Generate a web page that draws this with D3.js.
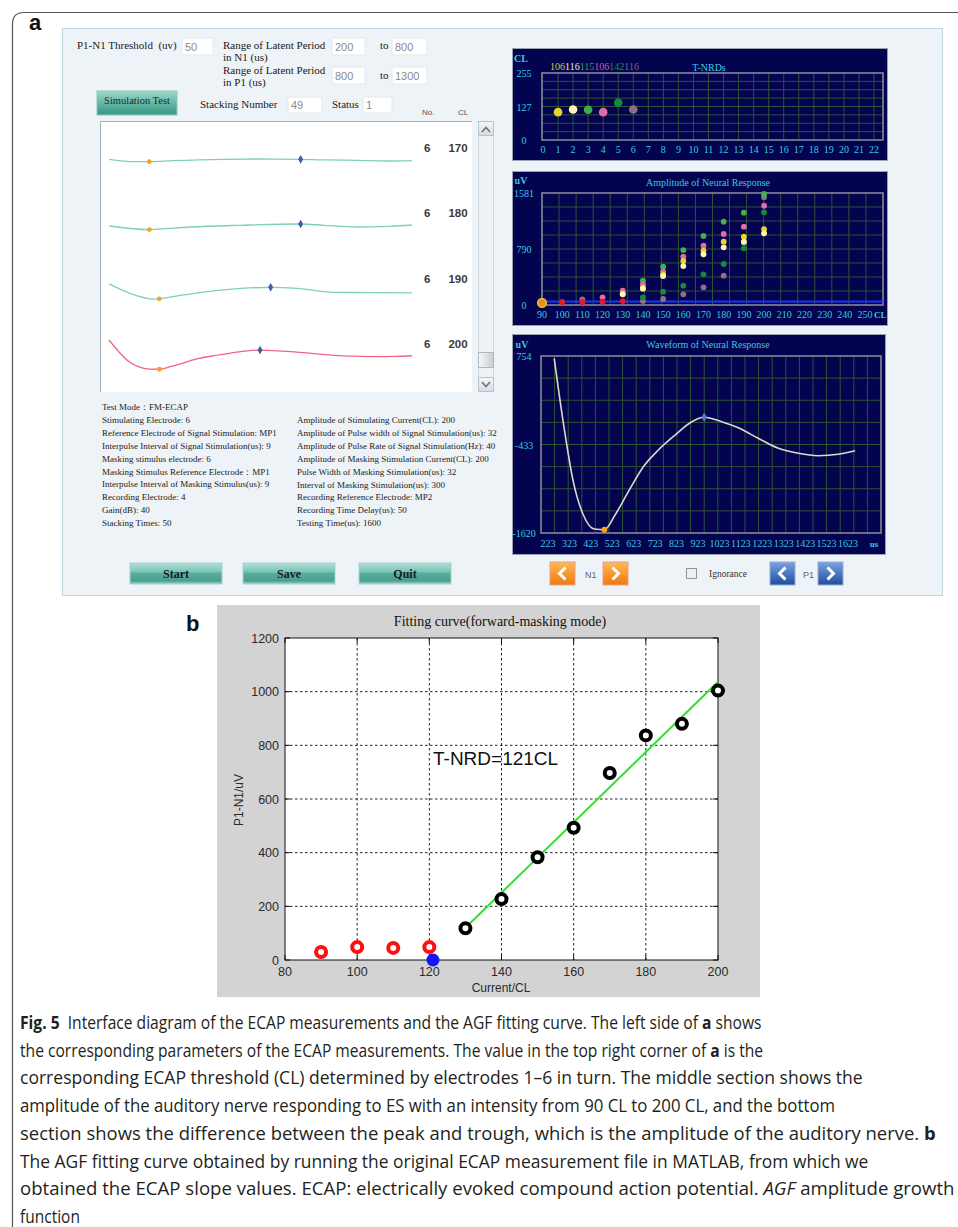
<!DOCTYPE html>
<html>
<head>
<meta charset="utf-8">
<script src="https://cdn.jsdelivr.net/npm/d3@7"></script>
<style>
html,body{margin:0;padding:0;background:#fff;}
svg{display:block;}
text{white-space:pre;}
</style>
</head>
<body>
<svg id="fig" width="958" height="1227"></svg>
<script>
// ---------------- data ----------------
// T-NRD threshold (CL) per electrode
const tnrdElectrodes = [1, 2, 3, 4, 5, 6];
const tnrdValues = [106, 116, 115, 106, 142, 116];
const tnrdXTicks = [0,1,2,3,4,5,6,7,8,9,10,11,12,13,14,15,16,17,18,19,20,21,22];
const tnrdYTicks = [0, 127, 255];

// Amplitude of neural response (uV) vs stimulation level (CL), one array per electrode
const ampCL = [90, 100, 110, 120, 130, 140, 150, 160, 170, 180, 190, 200];
const ampE1 = [30, null, null, null, 160, 244, 430, 621, 767, 894, 964, 1069];
const ampE2 = [null, null, null, null, 151, 230, 409, 550, 715, 814, 894, 1012];
const ampE3 = [null, null, null, null, null, 343, 541, 776, 974, 1176, 1303, 1567];
const ampE4 = [null, null, null, 108, 202, 292, 470, 682, 837, 1002, 1105, 1402];
const ampE5 = [null, null, null, null, null, 108, 188, 273, 433, 579, 800, 1308];
const ampE6 = [null, null, 80, null, null, 56, 85, 151, 250, 414, 880, 1520];
const ampBelow = [28, 42, 40, 47, 56, null, null, null, null, null, null, null];
const ampThreshold = 50;
const ampXTicks = [90,100,110,120,130,140,150,160,170,180,190,200,210,220,230,240,250];
const ampYTicks = [0, 790, 1581];

// Neural response waveform at 200 CL (time in us, amplitude in uV)
const waveUs = [252, 296, 341, 388, 439, 486, 536, 598, 668, 738, 816, 894, 952, 1033, 1111, 1204, 1298, 1391, 1484, 1577, 1656];
const waveUv = [723, -171, -932, -1378, -1566, -1576, -1378, -1066, -731, -507, -306, -127, -68, -127, -208, -350, -484, -551, -583, -564, -516];
const waveN1 = [486, -1576];
const waveP1 = [952, -68];
const waveXTicks = [223,323,423,523,623,723,823,923,1023,1123,1223,1323,1423,1523,1623];
const waveYTicks = [754, -433, -1620];

// Stacked traces listed in the left window
const traceNo = [6, 6, 6, 6];
const traceCL = [170, 180, 190, 200];
const trace170Us = [253, 365, 439, 550, 782, 936, 1140, 1245, 1400, 1554, 1655];
const trace170Uv = [-479, -667, -667, -588, -479, -455, -479, -533, -557, -612, -588];
const trace180Us = [253, 439, 627, 859, 1140, 1245, 1400, 1554, 1655];
const trace180Uv = [-588, -871, -667, -533, -431, -533, -667, -612, -510];
const trace190Us = [253, 349, 460, 596, 782, 1001, 1122, 1307, 1493, 1655];
const trace190Uv = [-7, -745, -1195, -871, -478, -274, -357, -671, -690, -714];
const traceN1 = [[439, -667], [439, -871], [485, -1180], [486, -1576]];
const traceP1 = [[1140, -479], [1140, -431], [1001, -274], [952, -68]];

// AGF fitting (panel b)
const fitCL = [90, 100, 110, 120, 130, 140, 150, 160, 170, 180, 190, 200];
const fitAmp = [30, 48, 45, 48, 118, 227, 383, 493, 697, 837, 880, 1004];
const fitUsed = [false, false, false, false, true, true, true, true, true, true, true, true];
const fitLineCL = [130, 200];
const fitLineAmp = [120, 1037];
const tnrdFit = 121;
const fitXTicks = [80, 100, 120, 140, 160, 180, 200];
const fitYTicks = [0, 200, 400, 600, 800, 1000, 1200];

// ---------------- drawing ----------------
const svg = d3.select("#fig");
const defs = svg.append("defs");
const SERIF = "'Liberation Serif','Times New Roman',serif";
const SANS = "'Liberation Sans',Arial,sans-serif";
const CYAN = "#36cbe0";

function grad(id, stops, x2 = 0, y2 = 1) {
  const g = defs.append("linearGradient").attr("id", id)
    .attr("x1", 0).attr("y1", 0).attr("x2", x2).attr("y2", y2);
  stops.forEach(s => g.append("stop").attr("offset", s[0]).attr("stop-color", s[1]));
}
grad("teal", [[0, "#b2e0d5"], [0.42, "#79c4b5"], [0.5, "#58ad9c"], [0.85, "#4b9f8f"], [1, "#9ad5c8"]]);
grad("tealSim", [[0, "#a0d9cc"], [0.5, "#63b8a7"], [1, "#3a9584"]]);
grad("orangeBtn", [[0, "#ffba55"], [1, "#f07810"]]);
grad("blueBtn", [[0, "#7aa3e6"], [1, "#1e4d9c"]]);
grad("thumb", [[0, "#f6f8fa"], [1, "#c5ccd3"]], 1, 0);
grad("scrollBtn", [[0, "#f4f7f9"], [1, "#d4dce2"]]);

function txt(g, x, y, s, o = {}) {
  const t = g.append("text").attr("x", x).attr("y", y).text(s)
    .attr("font-family", o.font || SERIF)
    .attr("font-size", o.size || 11)
    .attr("fill", o.fill || "#1a1a1a");
  if (o.anchor) t.attr("text-anchor", o.anchor);
  if (o.weight) t.attr("font-weight", o.weight);
  return t;
}

// outer figure frame
svg.append("path").attr("d", "M12.5,1227 V24 Q12.5,12.5 24,12.5 H958")
  .attr("fill", "none").attr("stroke", "#555").attr("stroke-width", 1.2);

// panel labels
txt(svg, 29, 30, "a", { font: SANS, size: 22, weight: "bold", fill: "#111" });
txt(svg, 186, 631, "b", { font: SANS, size: 22, weight: "bold", fill: "#111" });

// ---------- panel a : software interface ----------
const ui = svg.append("g");
ui.append("rect").attr("x", 62.5).attr("y", 28.5).attr("width", 880).attr("height", 567)
  .attr("fill", "#eef3f7").attr("stroke", "#c3d6df");

function inputBox(x, y, w, h, val) {
  ui.append("rect").attr("x", x).attr("y", y).attr("width", w).attr("height", h)
    .attr("fill", "#ffffff").attr("stroke", "#e2e9ee");
  txt(ui, x + 3, y + h - 4, val, { font: SANS, size: 11, fill: "#8a8a8a" });
}
txt(ui, 77, 49, "P1-N1 Threshold  (uv)", { size: 11 });
inputBox(182, 38, 31, 17, "50");
txt(ui, 223, 49, "Range of Latent Period", { size: 11 });
txt(ui, 223, 61, "in N1 (us)", { size: 11 });
inputBox(332, 38, 33, 17, "200");
txt(ui, 380, 49, "to", { size: 11 });
inputBox(392, 38, 35, 17, "800");
txt(ui, 223, 74, "Range of Latent Period", { size: 11 });
txt(ui, 223, 86, "in P1 (us)", { size: 11 });
inputBox(332, 67, 33, 17, "800");
txt(ui, 380, 79, "to", { size: 11 });
inputBox(392, 67, 35, 17, "1300");

ui.append("rect").attr("x", 97).attr("y", 91).attr("width", 80).attr("height", 24)
  .attr("fill", "url(#tealSim)").attr("stroke", "#8fc6ba");
txt(ui, 137, 104, "Simulation Test", { size: 10.5, anchor: "middle", fill: "#1c2a28" });
txt(ui, 200, 108, "Stacking Number", { size: 11 });
inputBox(288, 97, 34, 16, "49");
txt(ui, 332, 108, "Status", { size: 11 });
inputBox(363, 97, 29, 16, "1");
txt(ui, 422, 115, "No.", { font: SANS, size: 8, fill: "#555" });
txt(ui, 458, 115, "CL", { font: SANS, size: 8, fill: "#555" });

// trace window
ui.append("rect").attr("x", 100).attr("y", 121).attr("width", 372).attr("height", 271).attr("fill", "#fff");
ui.append("path").attr("d", "M100.5,392 V121.5 H472").attr("fill", "none").attr("stroke", "#a9b0b5");
// scrollbar
ui.append("rect").attr("x", 478.5).attr("y", 121.5).attr("width", 15).attr("height", 270)
  .attr("fill", "#edf2f5").attr("stroke", "#cfd8de");
[[121.5, "M482,132 L486,127.5 L490,132"], [377.5, "M482,382 L486,386.5 L490,382"]].forEach(([yy, d]) => {
  ui.append("rect").attr("x", 478.5).attr("y", yy).attr("width", 15).attr("height", 14)
    .attr("fill", "url(#scrollBtn)").attr("stroke", "#b8c2c9");
  ui.append("path").attr("d", d).attr("fill", "none").attr("stroke", "#6b747a").attr("stroke-width", 1.5);
});
ui.append("rect").attr("x", 478.5).attr("y", 352.5).attr("width", 15).attr("height", 15)
  .attr("fill", "url(#thumb)").attr("stroke", "#aeb8bf");

// stacked traces
const trX = d3.scaleLinear().domain([252, 1656]).range([109, 412]);
const rowY = d3.scalePoint().domain(traceCL).range([148, 344]);
const traceData = [
  d3.zip(trace170Us, trace170Uv),
  d3.zip(trace180Us, trace180Uv),
  d3.zip(trace190Us, trace190Uv),
  d3.zip(waveUs, waveUv)
];
const traceColor = ["#7dd2b2", "#7dd2b2", "#7dd2b2", "#f2637f"];
traceCL.forEach((cl, i) => {
  const top = rowY(cl) - 4.4;
  const ty = d3.scaleLinear().domain([754, -1620]).range([top, top + 30.2]);
  const line = d3.line().x(d => trX(d[0])).y(d => ty(d[1])).curve(d3.curveMonotoneX);
  ui.append("path").attr("d", line(traceData[i])).attr("fill", "none")
    .attr("stroke", traceColor[i]).attr("stroke-width", 1.3);
  ui.append("circle").attr("cx", trX(traceN1[i][0])).attr("cy", ty(traceN1[i][1])).attr("r", 2.4).attr("fill", "#f7a21b");
  ui.append("path").attr("d", d3.symbol(d3.symbolDiamond, 22)())
    .attr("transform", `translate(${trX(traceP1[i][0])},${ty(traceP1[i][1])})`).attr("fill", "#3f5fa6");
  txt(ui, 424, rowY(cl) + 4, String(traceNo[i]), { font: SANS, size: 11.5, weight: "bold", fill: "#3a3a3a" });
  txt(ui, 458, rowY(cl) + 4, String(cl), { font: SANS, size: 11.5, weight: "bold", fill: "#3a3a3a", anchor: "middle" });
});

// parameter listing
const leftParams = [
  "Test Mode：FM-ECAP",
  "Stimulating Electrode: 6",
  "Reference Electrode of Signal Stimulation: MP1",
  "Interpulse Interval of Signal Stimulation(us): 9",
  "Masking stimulus electrode: 6",
  "Masking Stimulus Reference Electrode：MP1",
  "Interpulse Interval of Masking Stimulus(us): 9",
  "Recording Electrode: 4",
  "Gain(dB): 40",
  "Stacking Times: 50"
];
const rightParams = [
  "Amplitude of Stimulating Current(CL): 200",
  "Amplitude of Pulse width of Signal Stimulation(us): 32",
  "Amplitude of Pulse Rate of Signal Stimulation(Hz): 40",
  "Amplitude of Masking Stimulation Current(CL): 200",
  "Pulse Width of Masking Stimulation(us): 32",
  "Interval of Masking Stimulation(us): 300",
  "Recording Reference Electrode: MP2",
  "Recording Time Delay(us): 50",
  "Testing Time(us): 1600"
];
leftParams.forEach((s, i) => txt(ui, 102, 410 + i * 12.9, s, { size: 9, fill: "#222" }));
rightParams.forEach((s, i) => txt(ui, 297, 423 + i * 12.9, s, { size: 9, fill: "#222" }));

// bottom buttons
[["Start", 130], ["Save", 243], ["Quit", 359]].forEach(([s, x]) => {
  ui.append("rect").attr("x", x).attr("y", 563).attr("width", 92).attr("height", 21)
    .attr("fill", "url(#teal)").attr("stroke", "#a5d4c9");
  txt(ui, x + 46, 578, s, { size: 12, weight: "bold", anchor: "middle", fill: "#14201e" });
});
function arrowBtn(x, dir, fillId, stroke) {
  ui.append("rect").attr("x", x).attr("y", 562).attr("width", 25).attr("height", 23)
    .attr("fill", `url(#${fillId})`).attr("stroke", stroke);
  const cx = x + 12.5, cy = 573.5;
  const d = dir < 0 ? `M${cx + 3},${cy - 6} L${cx - 3},${cy} L${cx + 3},${cy + 6}`
                    : `M${cx - 3},${cy - 6} L${cx + 3},${cy} L${cx - 3},${cy + 6}`;
  ui.append("path").attr("d", d).attr("fill", "none").attr("stroke", "#fff").attr("stroke-width", 3);
}
arrowBtn(550, -1, "orangeBtn", "#e9a08a");
txt(ui, 585, 578, "N1", { font: SANS, size: 9, fill: "#666" });
arrowBtn(603, 1, "orangeBtn", "#e9a08a");
ui.append("rect").attr("x", 686.5).attr("y", 568.5).attr("width", 10).attr("height", 10)
  .attr("fill", "#eef0f2").attr("stroke", "#8f969c");
txt(ui, 709, 577, "Ignorance", { size: 9.5, fill: "#333" });
arrowBtn(770, -1, "blueBtn", "#9ab0d4");
txt(ui, 803, 578, "P1", { font: SANS, size: 9, fill: "#666" });
arrowBtn(818, 1, "blueBtn", "#9ab0d4");

// ---------- dark plotting windows ----------
function darkPanel(box, plot, vLines, nH) {
  const g = svg.append("g");
  g.append("rect").attr("x", box.x + 0.5).attr("y", box.y + 0.5).attr("width", box.w).attr("height", box.h)
    .attr("fill", "#03034f").attr("stroke", "#98a2b0");
  const grid = g.append("g").attr("stroke", "#2f5336").attr("stroke-width", 1);
  vLines.forEach(x => grid.append("line").attr("x1", x).attr("x2", x).attr("y1", plot.y).attr("y2", plot.y + plot.h));
  for (let k = 1; k < nH; k++) {
    const y = plot.y + plot.h * k / nH;
    grid.append("line").attr("x1", plot.x).attr("x2", plot.x + plot.w).attr("y1", y).attr("y2", y);
  }
  return g;
}
function plotFrame(g, plot) {
  g.append("rect").attr("x", plot.x).attr("y", plot.y).attr("width", plot.w).attr("height", plot.h)
    .attr("fill", "none").attr("stroke", "#858896").attr("stroke-width", 1.6);
}

// T-NRDs
{
  const box = { x: 512, y: 48, w: 375, h: 112 }, plot = { x: 542, y: 73, w: 341, h: 67 };
  const x = d3.scaleLinear().domain([0, 22]).range([543, 874]);
  const y = d3.scaleLinear().domain([0, 255]).range([140, 73]);
  const g = darkPanel(box, plot, tnrdXTicks.slice(1).map(x), 8);
  plotFrame(g, plot);
  txt(g, 521, 62, "CL", { size: 10, weight: "bold", fill: CYAN, anchor: "middle" });
  txt(g, 709, 71, "T-NRDs", { size: 10, fill: CYAN, anchor: "middle" });
  tnrdYTicks.forEach(v => txt(g, 524, y(v) + 4, String(v), { size: 10, fill: CYAN, anchor: "middle" }));
  tnrdXTicks.forEach(v => txt(g, x(v), 153, String(v), { size: 10, fill: CYAN, anchor: "middle" }));
  const colors = ["#e4d52c", "#fbf4b4", "#3cae4c", "#e46aa8", "#138a3a", "#8c7082"];
  const labelColors = ["#d6c74e", "#f6f1d2", "#38a152", "#d75da4", "#1f8b4c", "#7b6b82"];
  const lab = g.append("text").attr("x", 550).attr("y", 70).attr("font-family", SERIF).attr("font-size", 10);
  tnrdValues.forEach((v, i) => lab.append("tspan").attr("fill", labelColors[i]).text(String(v)));
  tnrdElectrodes.forEach((e, i) => g.append("circle").attr("cx", x(e)).attr("cy", y(tnrdValues[i]))
    .attr("r", 4.3).attr("fill", colors[i]));
}

// Amplitude of Neural Response
{
  const box = { x: 512, y: 171, w: 375, h: 154 }, plot = { x: 542, y: 193, w: 341, h: 112 };
  const x = d3.scaleLinear().domain([90, 250]).range([542, 865]);
  const y = d3.scaleLinear().domain([0, 1581]).range([305, 193]);
  const vLines = d3.range(1, 20).map(k => plot.x + plot.w * k / 20);
  const g = darkPanel(box, plot, vLines, 8);
  plotFrame(g, plot);
  g.append("line").attr("x1", plot.x).attr("x2", plot.x + plot.w).attr("y1", y(ampThreshold)).attr("y2", y(ampThreshold))
    .attr("stroke", "#1838ff").attr("stroke-width", 2);
  txt(g, 521, 184, "uV", { size: 10, weight: "bold", fill: CYAN, anchor: "middle" });
  txt(g, 708, 186, "Amplitude of Neural Response", { size: 10, fill: CYAN, anchor: "middle" });
  ampYTicks.forEach(v => txt(g, 524, y(v) + 4, String(v), { size: 10, fill: CYAN, anchor: "middle" }));
  ampXTicks.forEach(v => txt(g, x(v), 318, String(v), { size: 10, fill: CYAN, anchor: "middle" }));
  txt(g, 874, 318, "CL", { size: 9, weight: "bold", fill: CYAN });
  const series = [
    [ampE6, "#8d7082"], [ampE5, "#14893b"], [ampE3, "#40b24e"], [ampE4, "#e46aa8"],
    [ampE1, "#e6d52a"], [ampE2, "#fff6b2"], [ampBelow, "#e8182a"]
  ];
  series.forEach(([vals, c]) => {
    ampCL.forEach((cl, i) => {
      if (vals[i] == null) return;
      g.append("circle").attr("cx", x(cl)).attr("cy", y(vals[i])).attr("r", 2.9).attr("fill", c);
    });
  });
  // start marker at 90 CL
  g.append("circle").attr("cx", x(ampCL[0])).attr("cy", y(ampE1[0])).attr("r", 4.4)
    .attr("fill", "#f08a20").attr("stroke", "#e6c030").attr("stroke-width", 1.5);
}

// Waveform of Neural Response
{
  const box = { x: 512, y: 334, w: 373, h: 220 }, plot = { x: 541, y: 356, w: 340, h: 177 };
  const x = d3.scaleLinear().domain([223, 1623]).range([548, 848]);
  const y = d3.scaleLinear().domain([-1620, 754]).range([533, 356]);
  const vLines = d3.range(1, 25).map(k => plot.x + plot.w * k / 25);
  const g = darkPanel(box, plot, vLines, 8);
  plotFrame(g, plot);
  txt(g, 522, 348, "uV", { size: 10, weight: "bold", fill: CYAN, anchor: "middle" });
  txt(g, 708, 348, "Waveform of Neural Response", { size: 10, fill: CYAN, anchor: "middle" });
  waveYTicks.forEach(v => txt(g, 524, y(v) + 4, String(v), { size: 10, fill: CYAN, anchor: "middle" }));
  waveXTicks.forEach(v => txt(g, x(v), 547, String(v), { size: 10, fill: CYAN, anchor: "middle" }));
  txt(g, 874, 547, "us", { size: 9, weight: "bold", fill: CYAN, anchor: "middle" });
  const line = d3.line().x((d, i) => x(waveUs[i])).y(d => y(d)).curve(d3.curveMonotoneX);
  g.append("path").attr("d", line(waveUv)).attr("fill", "none").attr("stroke", "#ddd9cf").attr("stroke-width", 1.6);
  g.append("circle").attr("cx", x(waveN1[0])).attr("cy", y(waveN1[1])).attr("r", 3).attr("fill", "#f7a21b");
  g.append("path").attr("d", d3.symbol(d3.symbolDiamond, 26)())
    .attr("transform", `translate(${x(waveP1[0])},${y(waveP1[1])})`).attr("fill", "#5a78c0");
}

// ---------- panel b : AGF fitting ----------
{
  const g = svg.append("g");
  g.append("rect").attr("x", 217).attr("y", 605).attr("width", 543).attr("height", 392).attr("fill", "#d3d3d3");
  const x = d3.scaleLinear().domain([80, 200]).range([285, 718]);
  const y = d3.scaleLinear().domain([0, 1200]).range([960, 638]);
  g.append("rect").attr("x", 285).attr("y", 638).attr("width", 433).attr("height", 322).attr("fill", "#fff");
  const grid = g.append("g").attr("stroke", "#222").attr("stroke-width", 1).attr("stroke-dasharray", "2.5,2.5");
  fitXTicks.slice(1, -1).forEach(v => grid.append("line").attr("x1", x(v)).attr("x2", x(v)).attr("y1", 638).attr("y2", 960));
  fitYTicks.slice(1, -1).forEach(v => grid.append("line").attr("x1", 285).attr("x2", 718).attr("y1", y(v)).attr("y2", y(v)));
  g.append("rect").attr("x", 285).attr("y", 638).attr("width", 433).attr("height", 322)
    .attr("fill", "none").attr("stroke", "#111").attr("stroke-width", 1);
  // inward ticks
  const tk = g.append("g").attr("stroke", "#111");
  fitXTicks.forEach(v => {
    tk.append("line").attr("x1", x(v)).attr("x2", x(v)).attr("y1", 960).attr("y2", 955);
    tk.append("line").attr("x1", x(v)).attr("x2", x(v)).attr("y1", 638).attr("y2", 643);
  });
  fitYTicks.forEach(v => {
    tk.append("line").attr("x1", 285).attr("x2", 290).attr("y1", y(v)).attr("y2", y(v));
    tk.append("line").attr("x1", 718).attr("x2", 713).attr("y1", y(v)).attr("y2", y(v));
  });
  fitXTicks.forEach(v => txt(g, x(v), 976, String(v), { font: SANS, size: 12.5, fill: "#2a2a2a", anchor: "middle" }));
  fitYTicks.forEach(v => txt(g, 279, y(v) + 4.5, String(v), { font: SANS, size: 12.5, fill: "#2a2a2a", anchor: "end" }));
  txt(g, 500, 626, "Fitting curve(forward-masking mode)", { size: 14, fill: "#111", anchor: "middle" });
  txt(g, 501, 992, "Current/CL", { font: SANS, size: 12, fill: "#2a2a2a", anchor: "middle" });
  txt(g, 0, 0, "P1-N1/uV", { font: SANS, size: 12, fill: "#2a2a2a", anchor: "middle" })
    .attr("transform", "translate(243,800) rotate(-90)");
  g.append("line").attr("x1", x(fitLineCL[0])).attr("y1", y(fitLineAmp[0]))
    .attr("x2", x(fitLineCL[1])).attr("y2", y(fitLineAmp[1]))
    .attr("stroke", "#2fe02f").attr("stroke-width", 2);
  fitCL.forEach((cl, i) => {
    g.append("circle").attr("cx", x(cl)).attr("cy", y(fitAmp[i])).attr("r", 5)
      .attr("fill", "#fff").attr("stroke", fitUsed[i] ? "#000" : "#ff1010").attr("stroke-width", 4);
  });
  g.append("circle").attr("cx", x(tnrdFit)).attr("cy", y(0)).attr("r", 6.5).attr("fill", "#1414ff");
  txt(g, 433, 765, `T-NRD=${tnrdFit}CL`, { font: SANS, size: 19, fill: "#111" });
}

// ---------- caption ----------
const captionLines = [
  { end: 762, parts: [["Fig. 5", "b"], ["  Interface diagram of the ECAP measurements and the AGF fitting curve. The left side of "], ["a", "b"], [" shows"]] },
  { end: 764, parts: [["the corresponding parameters of the ECAP measurements. The value in the top right corner of "], ["a", "b"], [" is the"]] },
  { end: 863, parts: [["corresponding ECAP threshold (CL) determined by electrodes 1–6 in turn. The middle section shows the"]] },
  { end: 836, parts: [["amplitude of the auditory nerve responding to ES with an intensity from 90 CL to 200 CL, and the bottom"]] },
  { end: 936, parts: [["section shows the difference between the peak and trough, which is the amplitude of the auditory nerve. "], ["b", "b"]] },
  { end: 869, parts: [["The AGF fitting curve obtained by running the original ECAP measurement file in MATLAB, from which we"]] },
  { end: 955, parts: [["obtained the ECAP slope values. ECAP: electrically evoked compound action potential. "], ["AGF", "i"], [" amplitude growth"]] },
  { end: 80, parts: [["function"]] }
];
captionLines.forEach((ln, i) => {
  const t = svg.append("text").attr("x", 0).attr("y", 0)
    .attr("font-family", "'Open Sans','Noto Sans',sans-serif").attr("font-size", 17.5).attr("fill", "#231f20");
  ln.parts.forEach(([s, st]) => {
    const sp = t.append("tspan").text(s);
    if (st === "b") sp.attr("font-weight", "bold");
    if (st === "i") sp.attr("font-style", "italic");
  });
  const w = t.node().getComputedTextLength();
  const sx = (ln.end - 20) / w;
  t.attr("transform", `translate(20,${1029 + i * 27.7}) scale(${sx},1)`);
});
</script>
</body>
</html>
